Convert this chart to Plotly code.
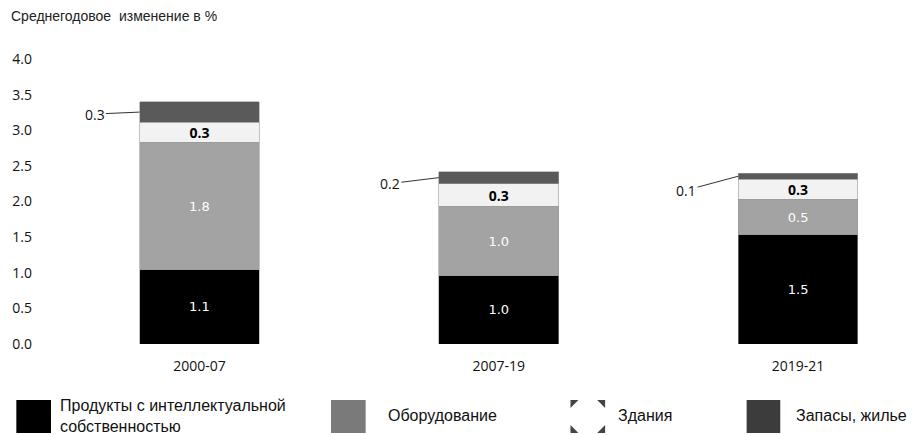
"""
Stacked bars: average annual change, by asset type
"""
import plotly.graph_objects as go

periods = ["2000-07", "2007-19", "2019-21"]
series_names = [
    "Продукты с интеллектуальной<br>собственностью",
    "Оборудование",
    "Здания",
    "Запасы, жилье",
]
ip_products = [1.04, 0.96, 1.53]
equipment = [1.79, 0.97, 0.50]
buildings = [0.28, 0.32, 0.28]
stocks_housing = [0.29, 0.17, 0.09]

ip_labels = ["1.1", "1.0", "1.5"]
equipment_labels = ["1.8", "1.0", "0.5"]
buildings_labels = ["0.3", "0.3", "0.3"]
stocks_labels = ["0.3", "0.2", "0.1"]

# plot area in pixels
L, R, T, B = 40, 12, 59, 91
W, H = 912, 435
PW, PH = W - L - R, H - T - B
DX = -3  # small horizontal correction seen in the render


def px(x):
    return (x + DX - L) / PW


def py(y):
    return (H - B - y) / PH


bar_colors = ["#000000", "#a3a3a3", "#f2f2f2", "#5a5a5a"]
legend_colors = ["#000000", "#7a7a7a", None, "#3c3c3c"]
values = [ip_products, equipment, buildings, stocks_housing]
labels = [ip_labels, equipment_labels, buildings_labels, None]
label_fonts = [
    dict(family="DejaVu Sans", size=13, color="#ffffff"),
    dict(family="DejaVu Sans", size=13, color="#ffffff"),
    dict(family="Open Sans", size=14, color="#000000", weight="bold"),
    None,
]

bar_width = 0.4

fig = go.Figure()
for name, vals, color, text, font in zip(series_names, values, bar_colors, labels, label_fonts):
    fig.add_trace(
        go.Bar(
            x=periods,
            y=vals,
            name=name,
            marker_color=color,
            marker_line=dict(color="#9a9a9a", width=0.6),
            width=bar_width,
            text=text,
            textposition="inside" if text else "none",
            insidetextanchor="middle",
            constraintext="none",
            textfont=font,
            textangle=0,
            showlegend=False,
        )
    )

# leader labels for the small top segment
offsets = [(-45, 2), (-49, 6), (-52, 14)]
for i, period in enumerate(periods):
    total = ip_products[i] + equipment[i] + buildings[i] + stocks_housing[i]
    fig.add_annotation(
        x=i - bar_width / 2,
        y=total - stocks_housing[i] / 2,
        xref="x",
        yref="y",
        text=stocks_labels[i],
        showarrow=True,
        arrowhead=0,
        arrowwidth=1,
        arrowcolor="#333333",
        ax=offsets[i][0],
        ay=offsets[i][1],
        font=dict(family="Open Sans", size=14, color="#111111"),
    )

# title
fig.add_annotation(
    x=px(3), y=py(16), xref="paper", yref="paper",
    text="Среднегодовое  изменение в %",
    showarrow=False, xanchor="left", yanchor="middle",
    font=dict(family="Liberation Sans", size=14, color="#222222"),
)

# hand-made legend
legend_boxes = [(10, 45), (328, 363), (570, 605), (748, 782)]
legend_text_x = [52, 384, 616, 796]
for i, name in enumerate(series_names):
    x0, x1 = legend_boxes[i]
    y0, y1 = 400, 433
    if legend_colors[i]:
        fig.add_shape(
            type="rect", xref="paper", yref="paper",
            x0=px(x0), x1=px(x1), y0=py(y1), y1=py(y0),
            fillcolor=legend_colors[i], line_width=0,
        )
    else:
        c = 8
        corners = [
            (x0, y0, 1, 1), (x1, y0, -1, 1), (x0, y1, 1, -1), (x1, y1, -1, -1)
        ]
        for cx, cy, dx, dy in corners:
            path = "M {} {} L {} {} L {} {} Z".format(
                px(cx), py(cy), px(cx + dx * c), py(cy), px(cx), py(cy + dy * c)
            )
            fig.add_shape(
                type="path", xref="paper", yref="paper", path=path,
                fillcolor="#444444", line_width=0,
            )
    fig.add_annotation(
        x=px(legend_text_x[i]), y=py(416), xref="paper", yref="paper",
        text=name, showarrow=False, xanchor="left", yanchor="middle", align="left",
        font=dict(family="Liberation Sans", size=16, color="#111111"),
    )

fig.update_layout(
    barmode="stack",
    width=W,
    height=H,
    margin=dict(l=L, r=R, t=T, b=B),
    plot_bgcolor="white",
    paper_bgcolor="white",
    showlegend=False,
)
fig.update_xaxes(
    type="category",
    range=[(L - DX - 195) / 302.5, (W - R - DX - 195) / 302.5],
    showline=False,
    showgrid=False,
    ticks="",
    ticklabelstandoff=12,
    tickfont=dict(family="Open Sans", size=14, color="#111111"),
)
fig.update_yaxes(
    range=[0, 4],
    tickvals=[0, 0.5, 1, 1.5, 2, 2.5, 3, 3.5, 4],
    tickformat=".1f",
    showgrid=False,
    zeroline=False,
    showline=False,
    ticklabelstandoff=16,
    tickfont=dict(family="Open Sans", size=14, color="#111111"),
)

fig.write_html(
    "out.html",
    config={"displayModeBar": False},
    post_script="document.body.style.margin='0';",
)
